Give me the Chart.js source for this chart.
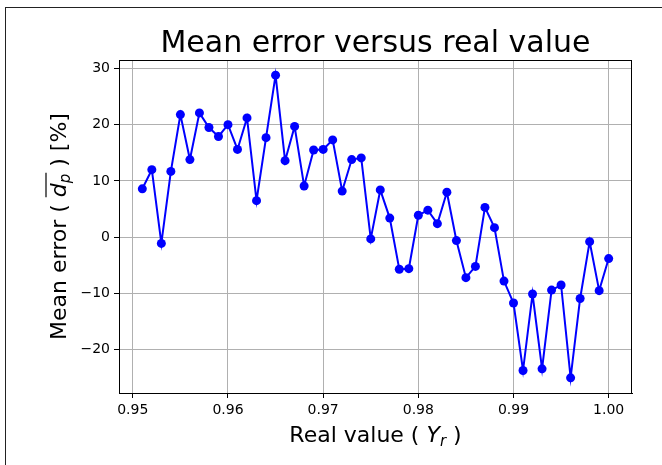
<!DOCTYPE html>
<html>
<head>
<meta charset="utf-8">
<script src="https://cdn.jsdelivr.net/npm/chart.js@4/dist/chart.umd.min.js"></script>
<style>
  html, body { margin: 0; padding: 0; background: #fff; overflow: hidden; }
  #wrap { position: relative; width: 662px; height: 465px; }
  #frame { position: absolute; left: 5px; top: 7px; width: 700px; height: 500px;
           border-left: 1.5px solid #222; border-top: 1.5px solid #222; }
  #chart { position: absolute; left: 0; top: 0; }
</style>
</head>
<body>
<div id="wrap">
  <div id="frame"></div>
  <canvas id="chart" width="662" height="465"></canvas>
</div>
<script>
const realValues = [
  0.951, 0.952, 0.953, 0.954, 0.955, 0.956, 0.957, 0.958, 0.959, 0.960,
  0.961, 0.962, 0.963, 0.964, 0.965, 0.966, 0.967, 0.968, 0.969, 0.970,
  0.971, 0.972, 0.973, 0.974, 0.975, 0.976, 0.977, 0.978, 0.979, 0.980,
  0.981, 0.982, 0.983, 0.984, 0.985, 0.986, 0.987, 0.988, 0.989, 0.990,
  0.991, 0.992, 0.993, 0.994, 0.995, 0.996, 0.997, 0.998, 0.999, 1.000
];
const meanErrors = [
  8.6, 12.0, -1.1, 11.7, 21.8, 13.8, 22.1, 19.5, 17.9, 20.0,
  15.6, 21.2, 6.5, 17.7, 28.8, 13.6, 19.7, 9.1, 15.5, 15.6,
  17.3, 8.2, 13.8, 14.1, -0.3, 8.4, 3.4, -5.7, -5.6, 3.9,
  4.8, 2.4, 8.0, -0.6, -7.2, -5.2, 5.3, 1.7, -7.8, -11.7,
  -23.7, -10.1, -23.4, -9.4, -8.5, -25.0, -10.9, -0.8, -9.5, -3.8
];
const xTicks = [0.95, 0.96, 0.97, 0.98, 0.99, 1.00];
const yTicks = [-20, -10, 0, 10, 20, 30];

const titleText = "Mean error versus real value";
const FONT = "'DejaVu Sans', sans-serif";

// draws frame on top/right, the title and the two axis labels (with math parts)
const decorations = {
  id: "decorations",
  afterDraw(chart) {
    const ctx = chart.ctx;
    const a = chart.chartArea;
    ctx.save();
    ctx.strokeStyle = "#000";
    ctx.lineWidth = 1;
    ctx.strokeRect(a.left + 0.5, a.top + 0.5, a.right - a.left - 1, a.bottom - a.top);

    ctx.fillStyle = "#000";
    ctx.textBaseline = "alphabetic";
    ctx.textAlign = "center";
    ctx.font = "30px " + FONT;
    const cx = (a.left + a.right) / 2;
    ctx.fillText(titleText, cx, 52);

    // x label: Real value ( Y_r )
    ctx.textAlign = "left";
    const parts = [
      { t: "Real value ( ", f: "22px " + FONT, dy: 0 },
      { t: "Y", f: "italic 22px " + FONT, dy: 0 },
      { t: "r", f: "italic 15px " + FONT, dy: 4 },
      { t: " )", f: "22px " + FONT, dy: 0 }
    ];
    let w = 0;
    parts.forEach(p => { ctx.font = p.f; w += ctx.measureText(p.t).width; });
    let x = cx - w / 2;
    parts.forEach(p => {
      ctx.font = p.f;
      ctx.fillText(p.t, x, 442 + p.dy);
      x += ctx.measureText(p.t).width;
    });

    // y label: Mean error ( d_p overline ) [%]
    const cy = (a.top + a.bottom) / 2;
    ctx.translate(66, cy);
    ctx.rotate(-Math.PI / 2);
    const yparts = [
      { t: "Mean error ( ", f: "22px " + FONT, dy: 0 },
      { t: "d", f: "italic 22px " + FONT, dy: 0, bar: true },
      { t: "p", f: "italic 15px " + FONT, dy: 4, bar: true },
      { t: " ) [%]", f: "22px " + FONT, dy: 0 }
    ];
    w = 0;
    yparts.forEach(p => { ctx.font = p.f; w += ctx.measureText(p.t).width; });
    x = -w / 2;
    let barStart = null, barEnd = null;
    yparts.forEach(p => {
      ctx.font = p.f;
      ctx.fillText(p.t, x, p.dy);
      const pw = ctx.measureText(p.t).width;
      if (p.bar) {
        if (barStart === null) barStart = x;
        barEnd = x + pw;
      }
      x += pw;
    });
    ctx.lineWidth = 1.2;
    ctx.beginPath();
    ctx.moveTo(barStart, -20);
    ctx.lineTo(barEnd + 1, -20);
    ctx.stroke();
    ctx.restore();
  }
};

const canvas = document.getElementById("chart").getContext("2d");
const points = realValues.map((v, i) => ({ x: v, y: meanErrors[i] }));

new Chart(canvas, {
  type: "line",
  data: {
    datasets: [
      {
        data: points,
        borderColor: "#0000ff",
        backgroundColor: "#0000ff",
        borderWidth: 2,
        pointRadius: 4.5,
        pointBorderWidth: 0,
        pointBackgroundColor: "#0000ff",
        tension: 0,
        fill: false
      }
    ]
  },
  options: {
    responsive: false,
    devicePixelRatio: 1,
    animation: false,
    layout: { padding: { left: 0, top: 60, right: 30, bottom: 0 } },
    plugins: {
      legend: { display: false },
      title: { display: false },
      tooltip: { enabled: false }
    },
    scales: {
      x: {
        type: "linear",
        min: 0.94855,
        max: 1.00245,
        afterBuildTicks: (s) => { s.ticks = xTicks.map(v => ({ value: v })); },
        afterFit: (s) => { s.height = 72; },
        grid: { color: "#b0b0b0", lineWidth: 1, tickColor: "#000", tickLength: 5 },
        border: { display: true, color: "#000", width: 1 },
        ticks: {
          color: "#000",
          font: { family: FONT, size: 14 },
          padding: 4,
          maxRotation: 0,
          callback: (v) => v.toFixed(2)
        }
      },
      y: {
        min: -27.7,
        max: 31.5,
        afterBuildTicks: (s) => { s.ticks = yTicks.map(v => ({ value: v })); },
        afterFit: (s) => { s.width = 119; },
        grid: { color: "#b0b0b0", lineWidth: 1, tickColor: "#000", tickLength: 5 },
        border: { display: true, color: "#000", width: 1 },
        ticks: {
          color: "#000",
          font: { family: FONT, size: 14 },
          padding: 4,
          callback: (v) => (v < 0 ? "\u2212" + Math.abs(v) : String(v))
        }
      }
    }
  },
  plugins: [decorations]
});
</script>
</body>
</html>
